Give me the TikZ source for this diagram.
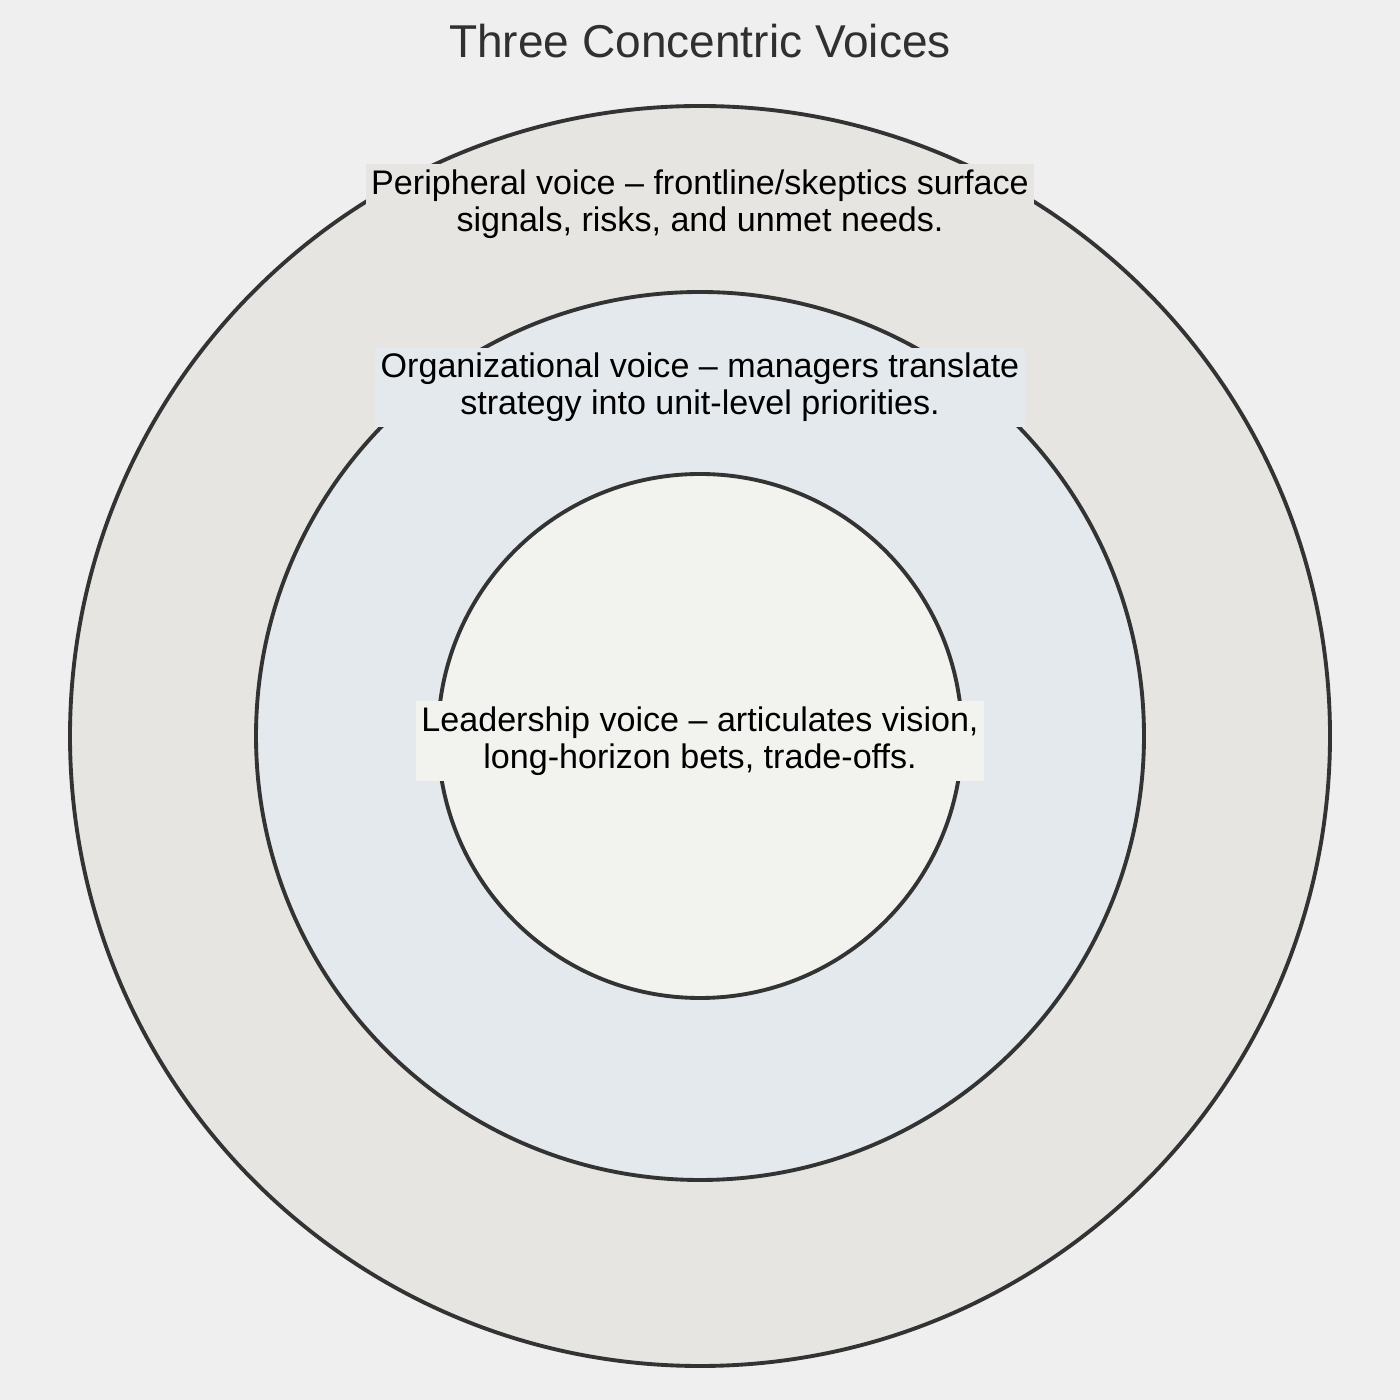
\documentclass[tikz,border=0pt]{standalone}
\usepackage{fontspec}
\setmainfont{Liberation Sans}
\usetikzlibrary{positioning}
\definecolor{bgcol}{HTML}{EFEFEF}
\definecolor{outercol}{HTML}{E6E5E1}
\definecolor{middlecol}{HTML}{E3E9EC}
\definecolor{innercol}{HTML}{F2F2EE}
\definecolor{linecol}{HTML}{333333}
\definecolor{titlecol}{HTML}{303030}

\begin{document}
\begin{tikzpicture}[ring/.style={draw=linecol, line width=1.1pt},
  voice/.style={align=center, inner sep=1.5pt, font=\fontsize{9.7}{10.6}\selectfont}]
  \fill[bgcol] (0,0) rectangle (14,14);
  \useasboundingbox (0,0) rectangle (14,14);
  \coordinate (c) at (7,6.64);

  \draw[ring, fill=outercol] (c) circle (6.30);
  \draw[ring, fill=middlecol] (c) circle (4.44);
  \draw[ring, fill=innercol] (c) circle (2.62);

  \node[font=\fontsize{13.1}{15}\selectfont, text=titlecol] (title) at (7,13.59) {Three Concentric Voices};

  \node[voice, fill=outercol] (peripheral) at (7,11.96)
    {Peripheral voice -- frontline/skeptics surface\\signals, risks, and unmet needs.};
  \node[voice, fill=middlecol] (organizational) at (7,10.125)
    {Organizational voice -- managers translate\\strategy into unit-level priorities.};
  \node[voice, fill=innercol] (leadership) at (7,6.59)
    {Leadership voice -- articulates vision,\\long-horizon bets, trade-offs.};
\end{tikzpicture}
\end{document}
